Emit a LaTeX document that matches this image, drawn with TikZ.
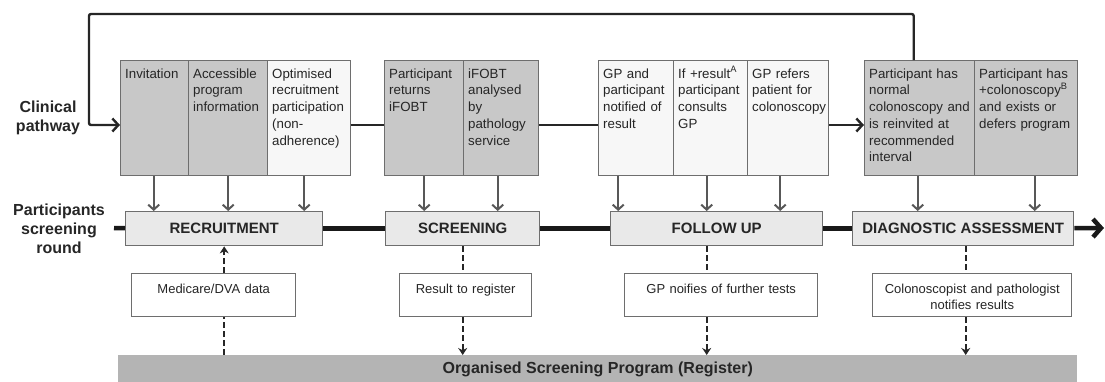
\documentclass[tikz,border=0pt]{standalone}
\usepackage{fontspec}
\setmainfont{Liberation Sans}
\usepackage{tikz}
\usetikzlibrary{positioning,arrows.meta}
\definecolor{CellGrey}{HTML}{C8C8C8}
\definecolor{PaleDot}{HTML}{F7F7F7}
\definecolor{StageGrey}{HTML}{E9E9E9}
\definecolor{RegisterGrey}{HTML}{B4B4B4}
\definecolor{EdgeGrey}{HTML}{6E6E6E}
\definecolor{InkDark}{HTML}{262626}

\begin{document}
\begin{tikzpicture}[
  x=1pt, y=-1pt,
  font=\fontsize{13.3}{16.7}\selectfont, text=InkDark,
  cell/.style={draw=EdgeGrey, fill=CellGrey, line width=1.4pt, anchor=north west, inner xsep=4.5pt, inner ysep=4pt, align=left, text height=13.5pt, text depth=93.5pt},
  pale/.style={cell, fill=PaleDot},
  stage/.style={draw=EdgeGrey, fill=StageGrey, line width=1.4pt, anchor=north west, minimum height=34pt, font=\fontsize{15}{18}\selectfont\bfseries},
  note/.style={draw=EdgeGrey, fill=white, line width=1.4pt, anchor=north west, inner xsep=3pt, inner ysep=8pt, align=center, text height=12pt, text depth=15pt, font=\fontsize{13}{16}\selectfont},
  side/.style={align=center, font=\fontsize{16}{19}\selectfont\bfseries},
  flow/.style={draw=black!85, line width=2.4pt},
  feed/.style={-{Straight Barb[length=5pt,width=11pt]}, draw=EdgeGrey!80!black, line width=2pt},
  spine/.style={draw=black!90, line width=4.5pt},
  report/.style={draw=black!85, line width=2.2pt, dash pattern=on 6pt off 3pt}
]
  \useasboundingbox (0,0) rectangle (1105,381);

  % Clinical pathway: four groups of cells.
  \node[cell, text width=59pt] (invite) at (120,60) {Invitation};
  \node[cell, text width=70pt] (access) at (188,60) {Accessible\\program\\information};
  \node[pale, text width=74pt] (optim) at (267,60) {Optimised\\recruitment\\participation\\(non-\\adherence)};

  \node[cell, text width=70pt] (returns) at (384,60) {Participant\\returns\\iFOBT};
  \node[cell, text width=66pt] (analysed) at (463,60) {iFOBT\\analysed\\by\\pathology\\service};

  \node[pale, text width=66pt] (notified) at (598,60) {GP and\\participant\\notified of\\result};
  \node[pale, text width=65pt] (consults) at (673,60) {If +result\textsuperscript{A}\\participant\\consults\\GP};
  \node[pale, text width=72pt] (refers) at (747,60) {GP refers\\patient for\\colonoscopy};

  \node[cell, text width=101pt] (normal) at (864,60) {Participant has\\normal\\colonoscopy and\\is reinvited at\\recommended\\interval};
  \node[cell, text width=94pt] (positive) at (974,60) {Participant has\\+colonoscopy\textsuperscript{B}\\and exists or\\defers program};

  % Participants screening round.
  \node[stage, minimum width=197pt] (recruit) at (125,211) {RECRUITMENT};
  \node[stage, minimum width=154pt] (screen) at (385,211) {SCREENING};
  \node[stage, minimum width=212pt] (follow) at (610,211) {FOLLOW UP};
  \node[stage, minimum width=221pt] (diag) at (852,211) {DIAGNOSTIC ASSESSMENT};

  % Register side.
  \node[note, text width=158pt] (medicare) at (131,273) {Medicare/DVA data};
  \node[note, text width=126pt] (result) at (399,273) {Result to register};
  \node[note, text width=187pt] (gpnote) at (624,273) {GP noifies of further tests};
  \node[note, text width=193pt] (colnote) at (872,273) {Colonoscopist and pathologist\\notifies results};
  \node[anchor=north west, fill=RegisterGrey, minimum width=959pt, minimum height=28pt, font=\fontsize{16}{19}\selectfont\bfseries] (register) at (118,355) {Organised Screening Program (Register)};

  \node[side] (clinical) at (48,118) {Clinical\\pathway};
  \node[side] (round) at (59,229) {Participants\\screening\\round};

  \coordinate (pathy) at (0,125);
  \coordinate (looptop) at (89,14);
  \coordinate (spinestart) at (114,228);
  \coordinate (spineend) at (1104,228);

  \draw[flow, rounded corners=2pt, -{Straight Barb[length=6pt,width=13pt]}] ([xshift=-6pt]normal.north) |- (looptop) |- (invite.west |- pathy);
  \draw[flow] (optim.east |- pathy) -- (returns.west |- pathy);
  \draw[flow] (analysed.east |- pathy) -- (notified.west |- pathy);
  \draw[flow, -{Straight Barb[length=6pt,width=13pt]}] (refers.east |- pathy) -- (normal.west |- pathy);

  \draw[feed] ([xshift=-1pt]invite.south) -- ([xshift=-1pt]invite.south |- recruit.north);
  \draw[feed] (access.south) -- (access.south |- recruit.north);
  \draw[feed] ([xshift=-5pt]optim.south) -- ([xshift=-5pt]optim.south |- recruit.north);
  \draw[feed] (returns.south) -- (returns.south |- screen.north);
  \draw[feed] ([xshift=-3.5pt]analysed.south) -- ([xshift=-3.5pt]analysed.south |- screen.north);
  \draw[feed] ([xshift=-18pt]notified.south) -- ([xshift=-18pt]notified.south |- follow.north);
  \draw[feed] ([xshift=-4pt]consults.south) -- ([xshift=-4pt]consults.south |- follow.north);
  \draw[feed] ([xshift=-8pt]refers.south) -- ([xshift=-8pt]refers.south |- follow.north);
  \draw[feed] ([xshift=-2pt]normal.south) -- ([xshift=-2pt]normal.south |- diag.north);
  \draw[feed] ([xshift=8.5pt]positive.south) -- ([xshift=8.5pt]positive.south |- diag.north);

  \draw[spine] (spinestart) -- (recruit);
  \draw[spine] (recruit) -- (screen);
  \draw[spine] (screen) -- (follow);
  \draw[spine] (follow) -- (diag);
  \draw[spine, -{Straight Barb[length=8pt,width=18pt]}] (diag) -- (spineend);

  \draw[report] (recruit.south |- register.north) -- (recruit.south |- medicare.south);
  \draw[report, -{Stealth[length=7pt,width=9pt]}] (recruit.south |- medicare.north) -- (recruit.south);
  \draw[report] (screen.south) -- (screen.south |- result.north);
  \draw[report, -{Stealth[length=7pt,width=9pt]}] (screen.south |- result.south) -- (screen.south |- register.north);
  \draw[report] ([xshift=-10pt]follow.south) -- ([xshift=-10pt]follow.south |- gpnote.north);
  \draw[report, -{Stealth[length=7pt,width=9pt]}] ([xshift=-10pt]follow.south |- gpnote.south) -- ([xshift=-10pt]follow.south |- register.north);
  \draw[report] ([xshift=2.5pt]diag.south) -- ([xshift=2.5pt]diag.south |- colnote.north);
  \draw[report, -{Stealth[length=7pt,width=9pt]}] ([xshift=2.5pt]diag.south |- colnote.south) -- ([xshift=2.5pt]diag.south |- register.north);
\end{tikzpicture}
\end{document}
